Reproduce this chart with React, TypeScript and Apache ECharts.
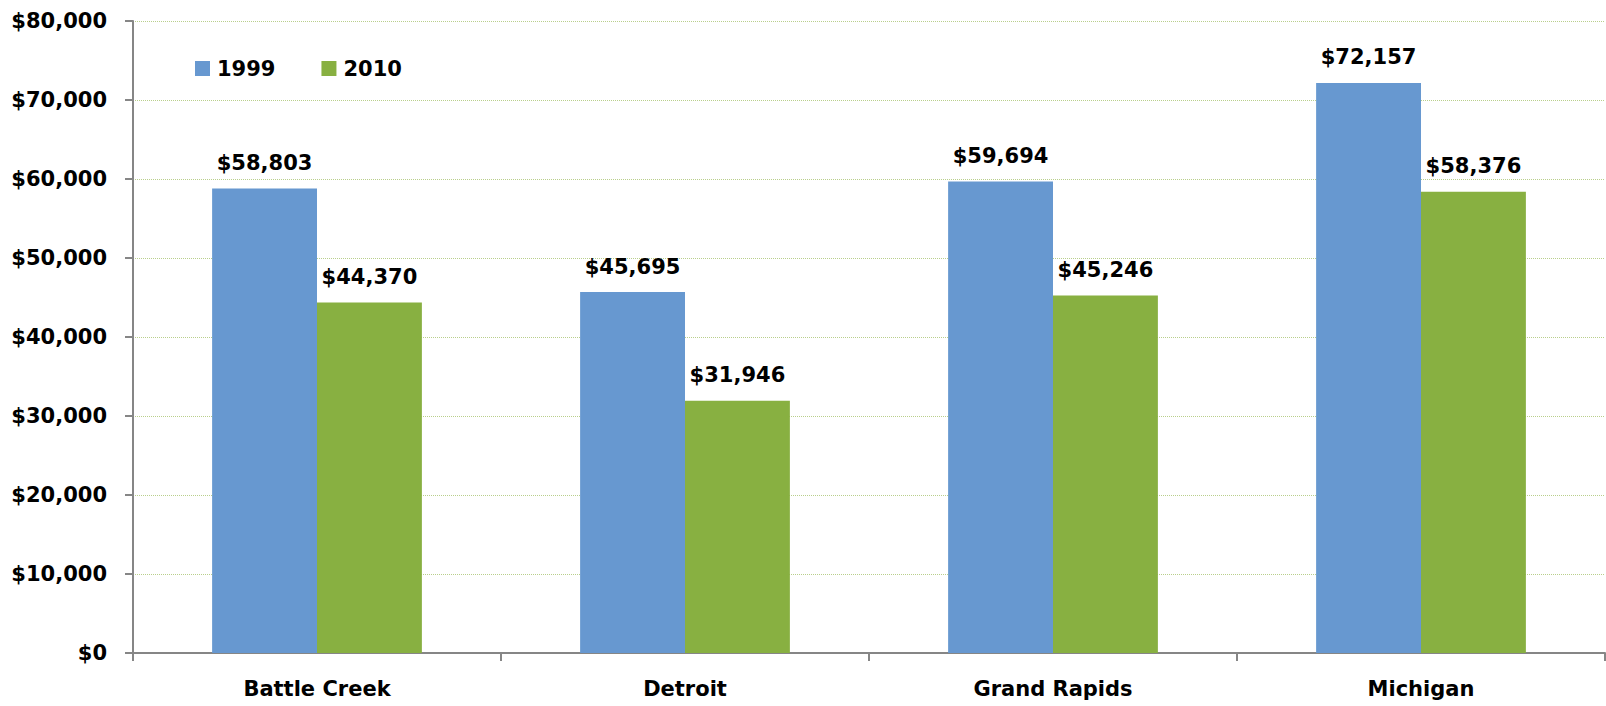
import React, { useEffect, useRef } from "react";
import * as echarts from "echarts";

const categories = ["Battle Creek", "Detroit", "Grand Rapids", "Michigan"];
const seriesNames = ["1999", "2010"];
const values1999 = [58803, 45695, 59694, 72157];
const values2010 = [44370, 31946, 45246, 58376];
const yTicks = [0, 10000, 20000, 30000, 40000, 50000, 60000, 70000, 80000];

const FONT = "DejaVu Sans";
const fmt = (v: number) => "$" + Number(v).toLocaleString("en-US");

export default function App() {
  const ref = useRef<HTMLDivElement>(null);
  useEffect(() => {
    if (!ref.current) return;
    const chart = echarts.init(ref.current, undefined, { renderer: "svg" });
    const labelStyle = {
      show: true,
      position: "top" as const,
      distance: 15,
      formatter: (p: any) => fmt(p.value),
      fontFamily: FONT,
      fontWeight: "bold" as const,
      fontSize: 21,
      color: "#000",
    };
    chart.setOption({
      animation: false,
      backgroundColor: "#fff",
      grid: { left: 133, top: 21, right: 1, bottom: 53, containLabel: false },
      legend: {
        left: 190,
        top: 53,
        itemWidth: 15,
        itemHeight: 15,
        itemGap: 46,
        icon: "rect",
        textStyle: { fontFamily: FONT, fontWeight: "bold", fontSize: 21, color: "#000", padding: [0, 0, 0, 2] },
        data: seriesNames,
      },
      xAxis: {
        type: "category",
        data: categories,
        boundaryGap: true,
        axisLine: { lineStyle: { color: "#868686", width: 2 } },
        axisTick: { show: true, length: 8, lineStyle: { color: "#868686", width: 2 } },
        axisLabel: { margin: 25, fontFamily: FONT, fontWeight: "bold", fontSize: 21, color: "#000" },
      },
      yAxis: {
        type: "value",
        min: yTicks[0],
        max: yTicks[yTicks.length - 1],
        interval: yTicks[1] - yTicks[0],
        axisLine: { show: true, lineStyle: { color: "#868686", width: 2 } },
        axisTick: { show: true, length: 8, lineStyle: { color: "#868686", width: 2 } },
        splitLine: { show: true, lineStyle: { color: "#b9cf8c", type: "dotted", width: 1 } },
        axisLabel: {
          margin: 26,
          formatter: (v: number) => fmt(v),
          fontFamily: FONT,
          fontWeight: "bold",
          fontSize: 21,
          color: "#000",
        },
      },
      series: [
        {
          name: seriesNames[0],
          type: "bar",
          data: values1999,
          barGap: "0%",
          barCategoryGap: "43%",
          itemStyle: { color: "#6798d0" },
          label: labelStyle,
        },
        {
          name: seriesNames[1],
          type: "bar",
          data: values2010,
          barGap: "0%",
          barCategoryGap: "43%",
          itemStyle: { color: "#88b041" },
          label: labelStyle,
        },
      ],
    });
    return () => chart.dispose();
  }, []);
  return <div ref={ref} style={{ width: 1606, height: 706, position: "absolute", left: 0, top: 0 }} />;
}
